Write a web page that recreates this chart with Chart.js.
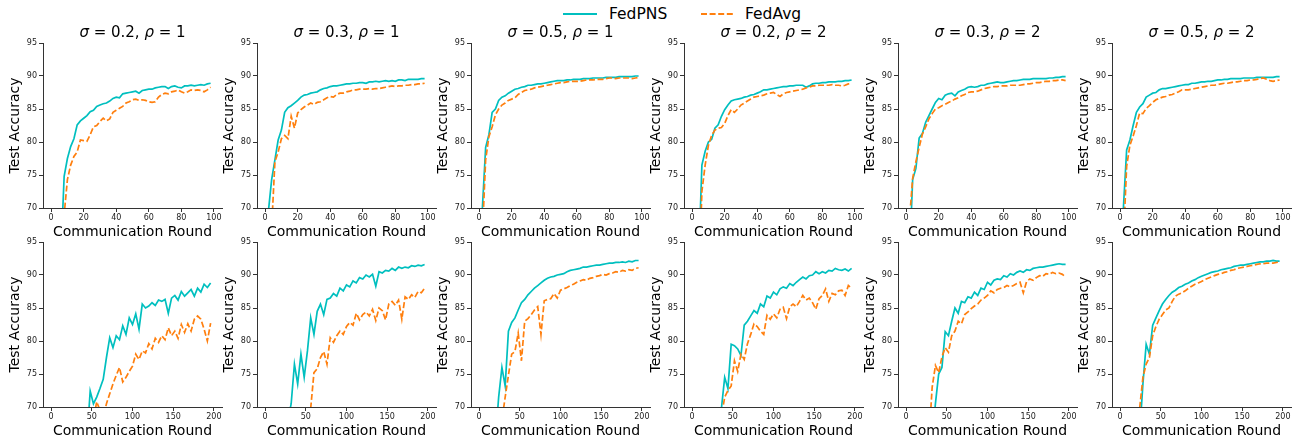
<!DOCTYPE html>
<html lang="en">
<head>
    <meta charset="UTF-8">
    <title>FedPNS vs FedAvg</title>
    <script src="https://cdn.jsdelivr.net/npm/chart.js"></script>
    <style>
        body {
            margin: 0;
            background: #fff;
            font-family: "DejaVu Sans", sans-serif;
        }

        #fig {
            position: relative;
            width: 1301px;
            height: 444px;
            overflow: hidden;
        }

        .panel {
            position: absolute;
        }

        .ttl {
            position: absolute;
            width: 240px;
            text-align: center;
            font-size: 15px;
            line-height: 18px;
            color: #000;
            white-space: nowrap;
        }

        .leg {
            position: absolute;
            font-size: 15.5px;
            line-height: 18px;
            color: #000;
        }
    </style>
</head>
<body>
    <div id="fig">
        <svg style="position:absolute;left:0;top:0" width="1301" height="30">
            <line x1="563" y1="14" x2="597" y2="14" stroke="#00bfbf" stroke-width="2"/>
            <line x1="701" y1="14" x2="734" y2="14" stroke="#ff7f0e" stroke-width="2" stroke-dasharray="6,2.6"/>
        </svg>
        <div class="leg" style="left:609px;top:5px">FedPNS</div>
        <div class="leg" style="left:745px;top:5px">FedAvg</div>
    </div>

    <script>
        // panel settings (columns)
        const sigmas = [0.2, 0.3, 0.5, 0.2, 0.3, 0.5];
        const rhos = [1, 1, 1, 2, 2, 2];

        // ticks
        const xTicks100 = [0, 20, 40, 60, 80, 100];
        const xTicks200 = [0, 50, 100, 150, 200];
        const yTicks = [70, 75, 80, 85, 90, 95];

        // round step of the stored values: top row every 2 rounds, bottom row every 4 rounds
        const stepTop = 2;
        const stepBottom = 4;

        // ---- top row: 100 rounds ----
        const fedpnsR1C1 = [10,25,45,63,74.8,77.5,79.3,80.5,82.6,83.2, 83.6,84,84.6,84.8,85.4,85.6,85.8,85.9,86.2,86.6, 86.8,86.7,87.3,87.4,87.5,87.6,87.7,87.4,87.8,87.9, 88,88,88.2,88.3,88.4,88.4,88.1,88.4,88.5,88.3, 88.2,88.5,88.5,88.6,88.5,88.6,88.7,88.6,88.8,88.9];
        const fedavgR1C1 = [10,22,40,58,69,74.3,76.5,77.8,78.5,80.3, 80.2,80.1,81.1,82.3,82.5,83.1,83.6,83.2,83.5,84.5, 84.8,85.1,85.4,85.9,86.1,86.4,86.5,86.3,86.4,86.3, 86.1,86,86.1,86.8,87.2,87.4,87.3,87.6,87.7,87.9, 87.6,87.4,87.6,87.9,87.8,87.9,87.8,87.6,87.9,88.3];

        const fedpnsR1C2 = [30,69.5,74.3,77.3,80.3,81.8,84.5,85.2,85.5,85.9, 86.3,86.8,87.1,87.2,87.4,87.5,87.6,87.9,88.1,88.2, 88.4,88.5,88.5,88.6,88.7,88.8,88.8,88.9,88.9,89, 89,88.9,89.1,89.1,89.2,89.1,89.2,89.3,89.2,89.3, 89.2,89.4,89.4,89.3,89.5,89.5,89.5,89.5,89.6,89.6];
        const fedavgR1C2 = [20,45,67,77,78.5,80.5,81,80.5,83.9,82.1, 84.4,84.9,85.3,85.6,85.9,85.7,86,86.1,86.4,86.7, 86.9,86.8,87.2,87.4,87.4,87.6,87.7,87.9,87.9,88, 88,88,88.1,88,88.1,88.1,88.2,88.3,88.4,88.5, 88.4,88.5,88.5,88.6,88.6,88.7,88.7,88.8,88.8,88.9];

        const fedpnsR1C3 = [40,70,79.2,81.1,84.5,85,86.3,86.8,87,87.4, 87.7,88,88.1,88.3,88.4,88.6,88.6,88.7,88.8,88.8, 88.9,89,89.1,89.2,89.3,89.3,89.3,89.4,89.4,89.5, 89.5,89.5,89.6,89.6,89.6,89.7,89.7,89.7,89.7,89.8, 89.8,89.8,89.8,89.9,89.9,89.9,89.9,89.9,90,90];
        const fedavgR1C3 = [35,66,77.3,80.8,82.3,84.1,85,85.6,85.9,86.3, 86.5,86.7,87.2,87.5,87.8,87.9,88,88.2,88.3,88.4, 88.5,88.6,88.7,88.8,88.9,89,89,89.1,89.2,89.2, 89.2,89.2,89.3,89.4,89.4,89.4,89.5,89.5,89.5,89.6, 89.7,89.7,89.6,89.7,89.7,89.7,89.7,89.6,89.7,89.8];

        const fedpnsR1C4 = [20,40,62,76.5,78.6,80,80.4,82.1,82.6,83.9, 84.9,85.6,86.2,86.4,86.5,86.6,86.8,86.9,87.1,87.2, 87.4,87.6,87.9,87.9,88,88.1,88.2,88.3,88.4,88.4, 88.5,88.5,88.6,88.6,88.6,88.3,88.5,88.8,88.9,88.9, 89,89,89.1,89.1,89.1,89.2,89.2,89.3,89.3,89.4];
        const fedavgR1C4 = [15,35,58,72.5,76.5,79.5,81,81.8,82.1,82.2, 82.8,84,84.9,84.5,85,85.6,85.9,86.2,86.5,86.8, 86.9,87,87.1,87.3,87.4,87.5,87.2,86.9,87.3,87.5, 87.6,87.7,87.8,87.9,88,88.2,88.3,88.5,88.5,88.6, 88.6,88.6,88.6,88.7,88.6,88.6,88.5,88.6,88.8,88.9];

        const fedpnsR1C5 = [30,62,74.3,76,80.6,81.3,83,84,85,86, 86.6,86.4,87.1,87.3,87.4,87,87.6,87.8,88,88.3, 88.4,88.3,88.4,88.6,88.6,88.8,88.9,89,89.1,89, 89,89.1,89.2,89.3,89.3,89.4,89.5,89.5,89.5,89.6, 89.6,89.6,89.6,89.6,89.7,89.7,89.8,89.8,89.9,89.9];
        const fedavgR1C5 = [30,68,74.5,77,79.2,81.2,82.3,83.5,84.3,85, 85.2,85.5,85.7,86,86.2,86.5,86.7,87,87.2,87.5, 87.6,87.6,87.7,87.9,88.1,88.2,88.3,88.4,88.4,88.5, 88.5,88.5,88.6,88.6,88.6,88.6,88.7,88.8,88.8,88.9, 89,89,89.1,89.2,89.2,89.3,89.3,89.4,89.4,89.3];

        const fedpnsR1C6 = [30,70,78.8,80.3,82.5,84.5,85.3,85.8,86.8,87.1, 87.4,87.5,87.9,88.1,88.1,88.2,88.3,88.4,88.5,88.6, 88.7,88.7,88.9,88.9,89,89.1,89.1,89.2,89.2,89.3, 89.4,89.4,89.5,89.5,89.6,89.6,89.6,89.6,89.7,89.7, 89.7,89.7,89.8,89.8,89.8,89.8,89.8,89.8,89.9,89.9];
        const fedavgR1C6 = [25,65,76.3,79.5,80.9,82.5,84.4,84.3,85.1,85.5, 86,86.4,86.6,86.8,86.9,87.1,87.2,87.4,87.6,87.9, 87.9,87.9,88,88.1,88.2,88.3,88.4,88.5,88.6,88.6, 88.7,88.8,88.9,88.9,89,89.1,89.1,89.2,89.3,89.3, 89.4,89.4,89.5,89.6,89.7,89.5,89.3,89.2,89.3,89.4];

        // ---- bottom row: 200 rounds ----
        const fedpnsR2C1 = [10,15,20,25,30,35,40,45,50,55, 60,65,72.4,70.5,71.5,72.8,74.2,77.5,80.5,79, 80.8,80.2,82.3,81,83.5,82.5,84.1,81.8,85.6,85, 85.3,85.8,85.4,86.2,86,86.3,84.2,86.5,86.9,86.2, 87.5,86.8,87.3,87.8,86.8,88,87.4,88.6,88.1,88.8];
        const fedavgR2C1 = [5,10,15,20,25,30,35,40,45,50, 55,60,64,68,70.8,69.5,68.5,70.5,72,73.5, 74.8,76,73.8,74.5,75.4,76.2,78,77.2,78.5,78.2, 79.6,78.8,80.4,79.8,80.8,80.2,82,80.8,81.5,80.4, 82.5,81.3,82.6,81.5,83.3,83.8,83.3,81.8,80,82.7];

        const fedpnsR2C2 = [10,20,30,40,50,58,64,68,70.5,76.5, 73.5,78,74.5,78.5,83.5,81,84.5,85.6,84,86.3, 86.5,87.2,86.8,88,87.6,88.5,88.2,89.1,88.8,89.6, 89.4,90,89.7,90.1,88.3,90.5,90.3,90.7,90.6,91, 90.7,91.2,91,91.2,91.1,91.4,91.3,91.5,91.4,91.6];
        const fedavgR2C2 = [5,10,15,20,25,30,35,40,45,50, 55,60,64,67,69.8,75.2,75.8,77.5,78.4,76.5, 80.5,79.8,80.8,81.5,81,82.2,82.8,82.4,84.2,83.2, 84,84.4,83.8,84.8,83.1,85,84.6,83.2,85.6,86, 85.4,86.2,83.3,86.7,86.3,87,86.6,87.5,87.3,88];

        const fedpnsR2C3 = [20,30,40,50,58,65,71.5,76,73.2,81.5, 82.8,83.5,84.7,85.8,86.3,87,87.5,88,88.4,88.8, 89.2,89.5,89.7,89.8,90,90.1,90.2,90.5,90.7,90.8, 90.9,91,91.2,91.2,91.3,91.4,91.5,91.5,91.6,91.7, 91.8,91.8,91.9,91.9,92,91.9,92.1,92,92.2,92.2];
        const fedavgR2C3 = [10,20,30,40,50,57,63,68,71.5,74.8, 78,78.4,81.2,77,83,83.4,84,84.7,85.2,81, 86.1,86.3,86.4,87.2,86.5,87.7,87.9,88.1,88.4,88.6, 88.9,89.1,89.3,89.2,89.5,89.6,89.8,89.9,90.1,90, 90.2,90.3,90.5,90.4,90.7,90.6,90.8,90.7,91,91.1];

        const fedpnsR2C4 = [10,15,20,25,30,40,50,60,66,69.8, 74.5,72.8,79.5,79.3,78.8,77.8,82.4,83,83.8,84.6, 84.2,85.6,85.2,86.8,86.5,87.4,87,87.9,88.2,88, 88.7,88.4,88.9,89.3,89.7,89.4,89.9,90,90.5,90.2, 90.5,90.3,90.7,90.6,91,90.8,90.7,90.9,90.6,91];
        const fedavgR2C4 = [8,12,18,24,30,38,46,55,63,68.5, 71.5,72.5,73.2,77,75.4,78,77.2,79.6,81,82.6, 82.2,81.5,81,83.9,83.3,84.1,83.5,84.8,85.1,83.4, 85.2,85.6,85.2,86,86.9,86.2,86.5,85.8,84.8,86.4, 86.9,87.9,86,87.2,87,87.6,87.7,86.9,88.4,88];

        const fedpnsR2C5 = [10,15,20,25,30,40,50,58,65,70.5, 75,76,81.4,80.8,83,85,84.2,86,85.8,86.7, 86.5,87.4,86.9,88,87.8,88.9,88.5,89.2,89.4,89.3, 89.9,89.7,90.2,90,90.4,90.6,90.4,90.8,90.7,91, 91.1,91.2,91.2,91.3,91.4,91.5,91.6,91.7,91.6,91.6];
        const fedavgR2C5 = [10,15,20,30,40,50,58,65,73,76.3, 75.2,77.6,79,78.3,80.8,81.5,83,82.6,84,84.4, 84.9,85.3,85.6,86.2,86.5,86.9,87.6,87.3,87.8,88, 88.1,88.4,88.2,88.4,88.7,88.9,87.3,89,89.4,89.2, 89.6,89.9,89.8,90.2,90.1,90.4,90.2,90.3,90.1,89.7];

        const fedpnsR2C6 = [10,20,30,40,50,58,66,73.5,79.5,78, 82.4,83.5,84.6,85.6,86.3,86.9,87.4,87.7,88.1,88.3, 88.6,88.8,89.1,89.3,89.6,89.8,90,90.2,90.4,90.5, 90.6,90.8,90.9,91,91.1,91.3,91.4,91.5,91.5,91.6, 91.7,91.8,91.9,92,92,92.1,92.1,92.2,92.1,92.1];
        const fedavgR2C6 = [10,20,30,40,52,62,69.8,74.5,76.5,77.5, 80.8,82.2,83.3,84,84.7,85,86,86.8,87.1,87.3, 87.6,88,88.3,88.6,88.8,89,89.3,89.5,89.7,89.9, 90.1,90.2,90.4,90.5,90.7,90.8,91,91.1,91.2,91.3, 91.4,91.5,91.6,91.7,91.7,91.8,91.8,91.8,91.9,92];

        const topRow = [[fedpnsR1C1, fedavgR1C1], [fedpnsR1C2, fedavgR1C2], [fedpnsR1C3, fedavgR1C3],
                        [fedpnsR1C4, fedavgR1C4], [fedpnsR1C5, fedavgR1C5], [fedpnsR1C6, fedavgR1C6]];
        const bottomRow = [[fedpnsR2C1, fedavgR2C1], [fedpnsR2C2, fedavgR2C2], [fedpnsR2C3, fedavgR2C3],
                           [fedpnsR2C4, fedavgR2C4], [fedpnsR2C5, fedavgR2C5], [fedpnsR2C6, fedavgR2C6]];

        // layout of the plot areas in the figure
        const colLeft = [43, 257, 471, 684, 898, 1112];
        const rowTop = [43, 242];
        const PW = 179, PH = 165;
        const AXW = 43, AXH = 40, PADT = 8, PADR = 8;

        const fig = document.getElementById('fig');
        const tickFont = { family: 'DejaVu Sans', size: 8 };
        const labelFont = { family: 'DejaVu Sans', size: 14 };

        function makePanel(row, col, pns, avg) {
            const step = row === 0 ? stepTop : stepBottom;
            const xMax = row === 0 ? 100 : 200;
            const xt = row === 0 ? xTicks100 : xTicks200;
            const margin = xMax * 0.05;

            const cv = document.createElement('canvas');
            cv.width = AXW + PW + PADR;
            cv.height = PADT + PH + AXH;
            cv.className = 'panel';
            cv.style.left = (colLeft[col] - AXW) + 'px';
            cv.style.top = (rowTop[row] - PADT) + 'px';
            fig.appendChild(cv);

            const toPts = arr => arr.map((v, i) => ({ x: i * step, y: v }));

            new Chart(cv.getContext('2d'), {
                type: 'line',
                data: {
                    datasets: [{
                        label: 'FedPNS',
                        data: toPts(pns),
                        borderColor: '#00bfbf',
                        borderWidth: 1.7,
                        pointRadius: 0,
                        tension: 0,
                        order: 1
                    }, {
                        label: 'FedAvg',
                        data: toPts(avg),
                        borderColor: '#ff7f0e',
                        borderWidth: 1.7,
                        borderDash: [6, 2.6],
                        pointRadius: 0,
                        tension: 0,
                        order: 0
                    }]
                },
                options: {
                    responsive: false,
                    animation: false,
                    events: [],
                    layout: { padding: { top: PADT, right: PADR, left: 0, bottom: 0 } },
                    plugins: { legend: { display: false }, tooltip: { enabled: false } },
                    scales: {
                        x: {
                            type: 'linear',
                            min: -margin,
                            max: xMax + margin,
                            afterBuildTicks: s => { s.ticks = xt.map(v => ({ value: v })); },
                            afterFit: s => { s.height = AXH; },
                            grid: { drawOnChartArea: false, drawTicks: true, tickLength: 4, tickColor: '#333' },
                            border: { display: true, color: '#333', width: 1 },
                            ticks: { font: tickFont, color: '#1a1a1a', padding: 1, maxRotation: 0 },
                            title: { display: true, text: 'Communication Round', font: labelFont, color: '#000', padding: { top: 0, bottom: 7 } }
                        },
                        y: {
                            min: 70,
                            max: 95,
                            afterBuildTicks: s => { s.ticks = yTicks.map(v => ({ value: v })); },
                            afterFit: s => { s.width = AXW; },
                            grid: { drawOnChartArea: false, drawTicks: true, tickLength: 4, tickColor: '#333' },
                            border: { display: true, color: '#333', width: 1 },
                            ticks: { font: tickFont, color: '#1a1a1a', padding: 2 },
                            title: { display: true, text: 'Test Accuracy', font: labelFont, color: '#000', padding: { top: 6.6, bottom: 0 } }
                        }
                    }
                }
            });
        }

        topRow.forEach((pair, c) => makePanel(0, c, pair[0], pair[1]));
        bottomRow.forEach((pair, c) => makePanel(1, c, pair[0], pair[1]));

        // panel titles
        sigmas.forEach((s, c) => {
            const t = document.createElement('div');
            t.className = 'ttl';
            t.style.left = (colLeft[c] + PW / 2 - 120) + 'px';
            t.style.top = '23px';
            t.innerHTML = '<i>σ</i> = ' + s + ', <i>ρ</i> = ' + rhos[c];
            fig.appendChild(t);
        });
    </script>
</body>
</html>
